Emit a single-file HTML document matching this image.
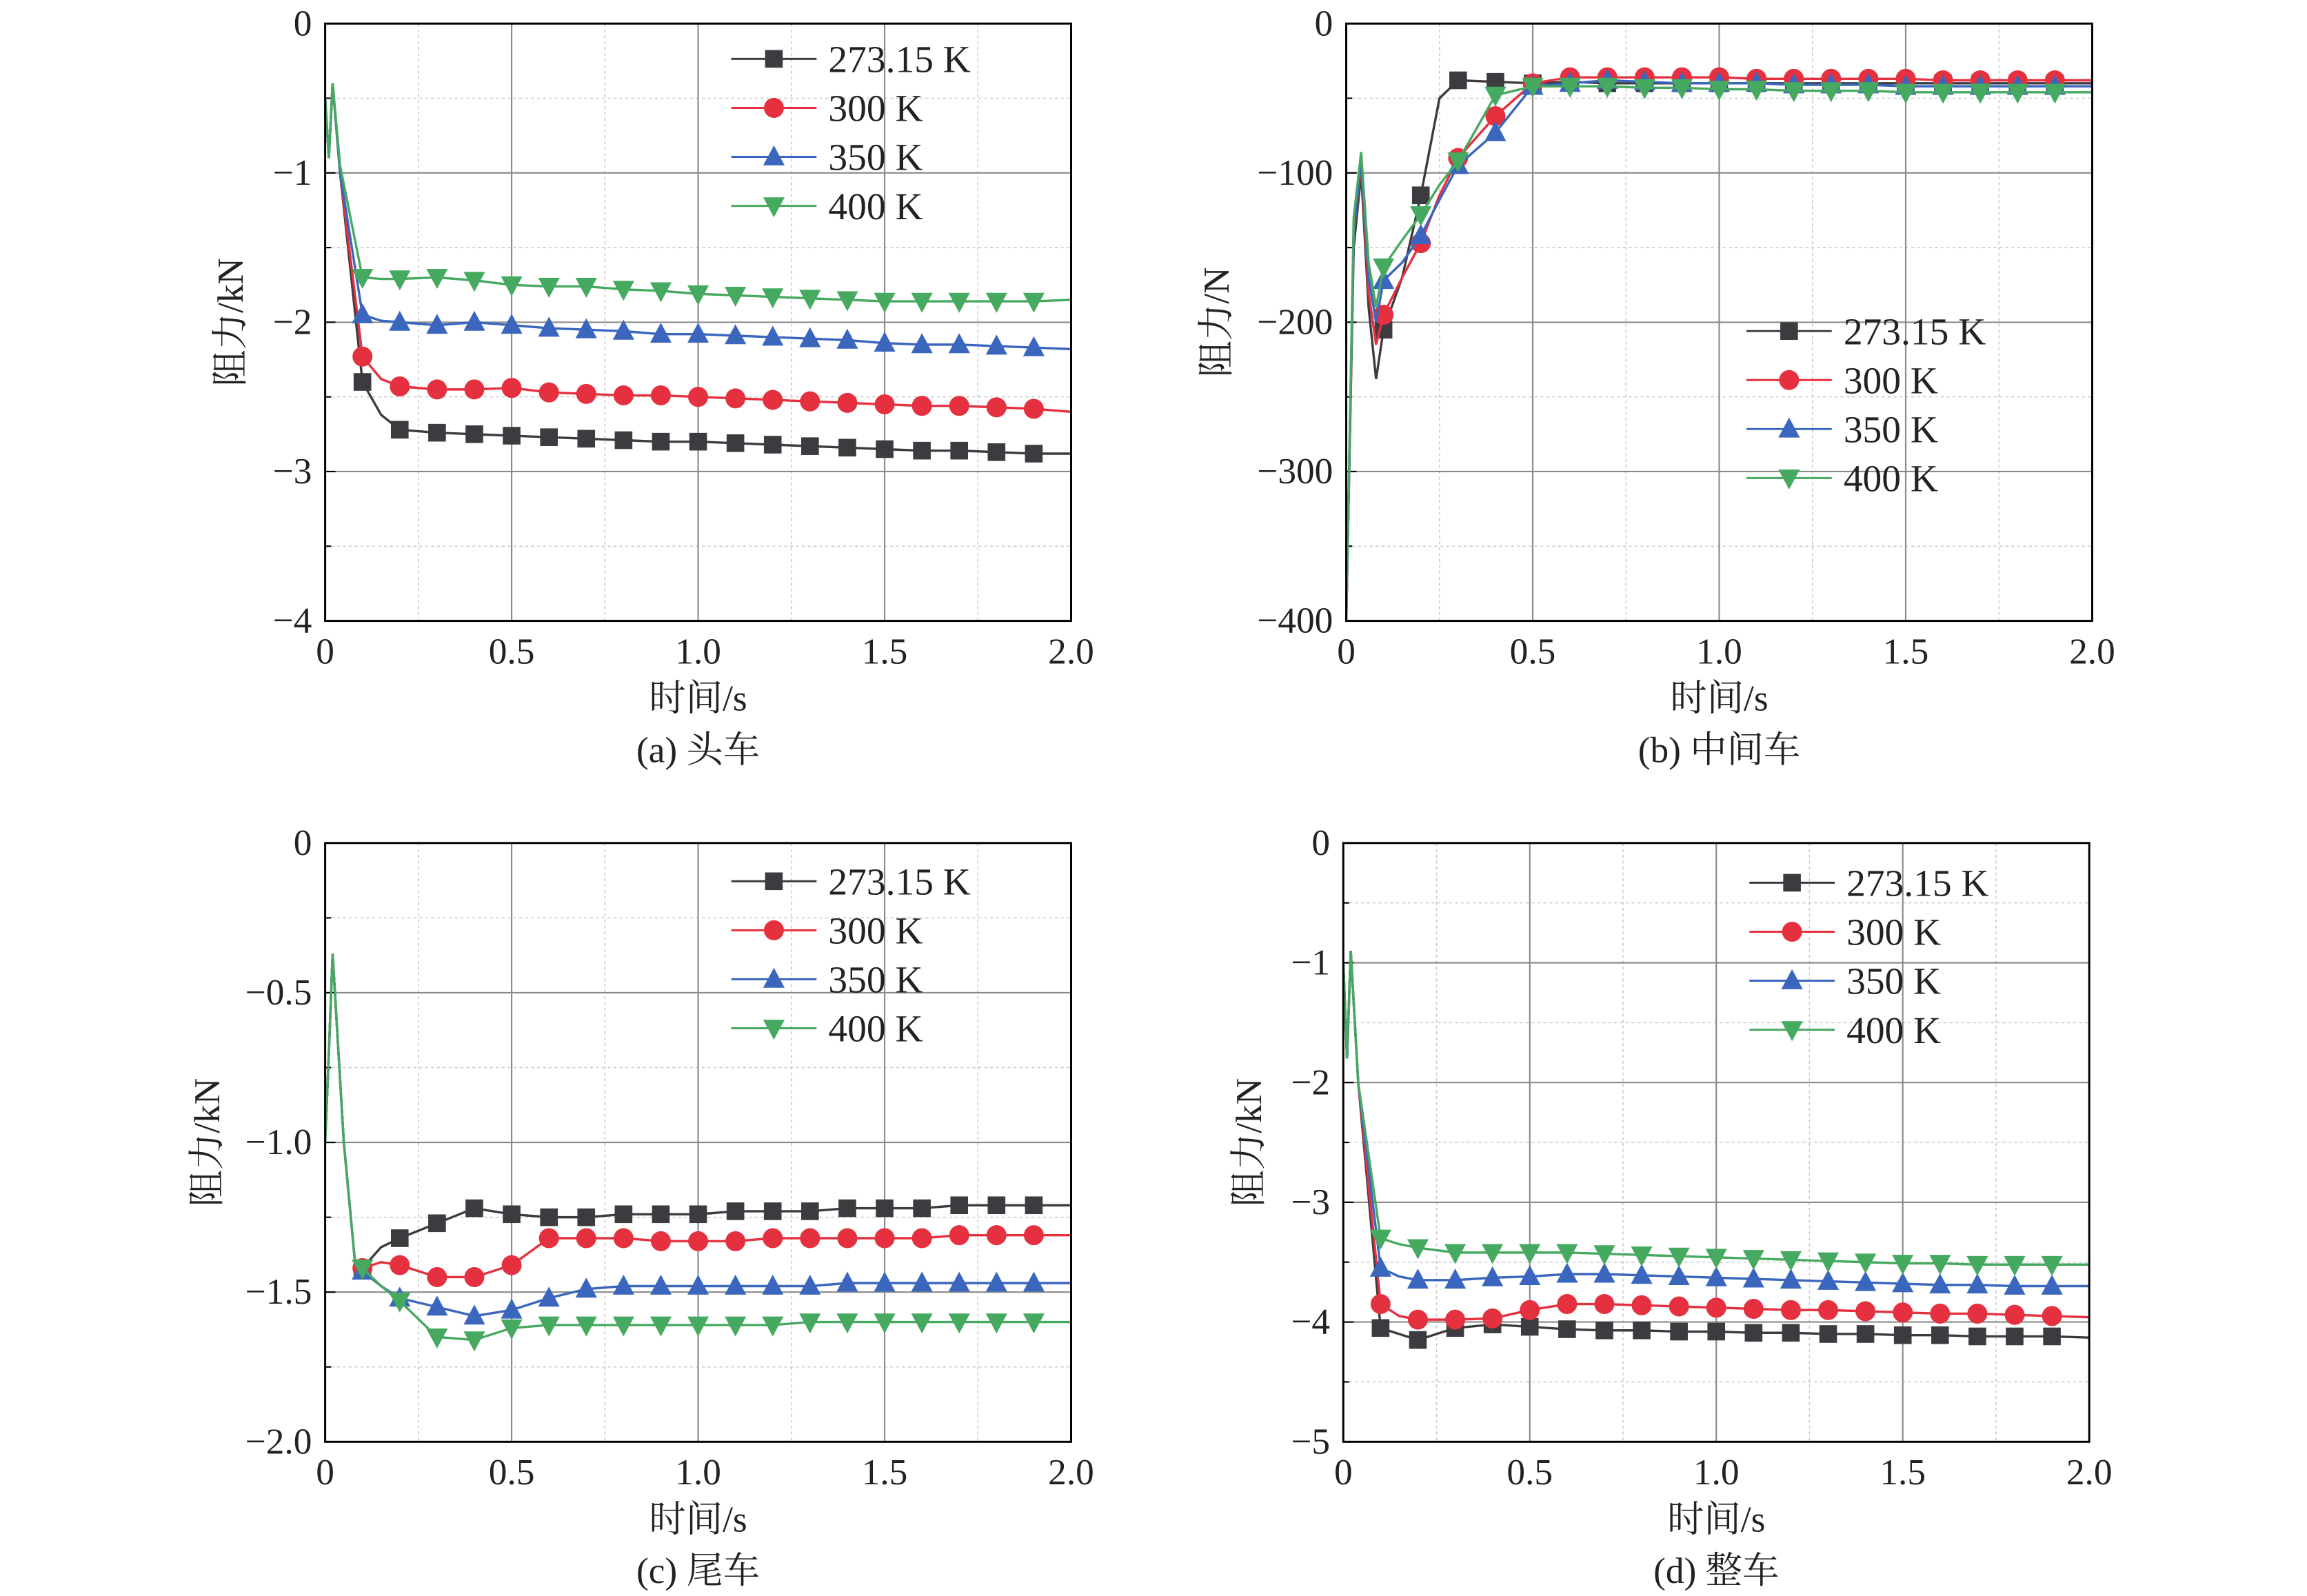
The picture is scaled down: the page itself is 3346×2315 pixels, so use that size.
<!DOCTYPE html>
<html><head><meta charset="utf-8"><style>
html,body{margin:0;padding:0;background:#fff;}
svg{display:block;}
text{font-family:"Liberation Serif","Noto Serif CJK SC",serif;fill:#222;}
</style></head><body>
<svg id="chart" width="3346" height="2315" viewBox="0 0 1568 1084.8" xmlns="http://www.w3.org/2000/svg"></svg>
<script>
const seriesNames = ["273.15 K","300 K","350 K","400 K"];
const colors = ["#3c3c40","#e5303f","#3b66be","#46a960"];
const markers = ["square","circle","up","down"];
const xTicks = [0,0.5,1.0,1.5,2.0];
const xTickLabels = ["0","0.5","1.0","1.5","2.0"];

// Panel A
const aYTicks = [0,-1,-2,-3,-4];
const aYTickLabels = ["0","\u22121","\u22122","\u22123","\u22124"];
const aT = [0,0.01,0.02,0.04,0.1,0.15,0.2,0.3,0.4,0.5,0.6,0.7,0.8,0.9,1.0,1.1,1.2,1.3,1.4,1.5,1.6,1.7,1.8,1.9,2.0];
const a273 = [-0.5,-0.9,-0.4,-1.0,-2.4,-2.62,-2.72,-2.74,-2.75,-2.76,-2.77,-2.78,-2.79,-2.8,-2.8,-2.81,-2.82,-2.83,-2.84,-2.85,-2.86,-2.86,-2.87,-2.88,-2.88];
const a300 = [-0.5,-0.9,-0.4,-1.0,-2.23,-2.38,-2.43,-2.45,-2.45,-2.44,-2.47,-2.48,-2.49,-2.49,-2.5,-2.51,-2.52,-2.53,-2.54,-2.55,-2.56,-2.56,-2.57,-2.58,-2.6];
const a350 = [-0.5,-0.9,-0.4,-1.0,-1.95,-1.99,-2.0,-2.02,-2.0,-2.02,-2.04,-2.05,-2.06,-2.08,-2.08,-2.09,-2.1,-2.11,-2.12,-2.14,-2.15,-2.15,-2.16,-2.17,-2.18];
const a400 = [-0.5,-0.9,-0.4,-0.95,-1.7,-1.71,-1.71,-1.7,-1.72,-1.75,-1.76,-1.76,-1.78,-1.79,-1.81,-1.82,-1.83,-1.84,-1.85,-1.86,-1.86,-1.86,-1.86,-1.86,-1.85];

// Panel B
const bYTicks = [0,-100,-200,-300,-400];
const bYTickLabels = ["0","\u2212100","\u2212200","\u2212300","\u2212400"];
const bT = [0,0.02,0.04,0.06,0.08,0.1,0.15,0.2,0.25,0.3,0.4,0.5,0.6,0.7,0.8,0.9,1.0,1.1,1.2,1.3,1.4,1.5,1.6,1.7,1.8,1.9,2.0];
const b273 = [-400,-150,-100,-190,-238,-205,-170,-115,-50,-38,-39,-40,-39,-40,-40,-40,-40,-40,-40,-40,-40,-40,-40,-40,-40,-40,-40];
const b300 = [-400,-140,-95,-180,-215,-195,-170,-147,-115,-90,-62,-40,-36,-36,-36,-36,-36,-37,-37,-37,-37,-37,-38,-38,-38,-38,-38];
const b350 = [-400,-140,-92,-170,-200,-172,-160,-142,-118,-95,-73,-42,-40,-38,-39,-40,-40,-40,-41,-41,-41,-42,-42,-42,-42,-42,-42];
const b400 = [-400,-130,-86,-160,-190,-163,-145,-128,-108,-92,-48,-42,-42,-42,-43,-43,-44,-44,-45,-45,-45,-46,-46,-46,-46,-46,-46];

// Panel C
const cYTicks = [0,-0.5,-1.0,-1.5,-2.0];
const cYTickLabels = ["0","\u22120.5","\u22121.0","\u22121.5","\u22122.0"];
const cT = [0,0.01,0.02,0.05,0.08,0.1,0.15,0.2,0.3,0.4,0.5,0.6,0.7,0.8,0.9,1.0,1.1,1.2,1.3,1.4,1.5,1.6,1.7,1.8,1.9,2.0];
const c273 = [-1.0,-0.7,-0.37,-1.0,-1.4,-1.42,-1.35,-1.32,-1.27,-1.22,-1.24,-1.25,-1.25,-1.24,-1.24,-1.24,-1.23,-1.23,-1.23,-1.22,-1.22,-1.22,-1.21,-1.21,-1.21,-1.21];
const c300 = [-1.0,-0.7,-0.37,-1.0,-1.4,-1.42,-1.4,-1.41,-1.45,-1.45,-1.41,-1.32,-1.32,-1.32,-1.33,-1.33,-1.33,-1.32,-1.32,-1.32,-1.32,-1.32,-1.31,-1.31,-1.31,-1.31];
const c350 = [-1.0,-0.7,-0.37,-1.0,-1.4,-1.43,-1.48,-1.52,-1.55,-1.58,-1.56,-1.52,-1.49,-1.48,-1.48,-1.48,-1.48,-1.48,-1.48,-1.47,-1.47,-1.47,-1.47,-1.47,-1.47,-1.47];
const c400 = [-1.0,-0.7,-0.37,-1.0,-1.4,-1.42,-1.48,-1.53,-1.65,-1.66,-1.62,-1.61,-1.61,-1.61,-1.61,-1.61,-1.61,-1.61,-1.6,-1.6,-1.6,-1.6,-1.6,-1.6,-1.6,-1.6];

// Panel D
const dYTicks = [0,-1,-2,-3,-4,-5];
const dYTickLabels = ["0","\u22121","\u22122","\u22123","\u22124","\u22125"];
const dT = [0,0.01,0.02,0.04,0.1,0.15,0.2,0.3,0.4,0.5,0.6,0.7,0.8,0.9,1.0,1.1,1.2,1.3,1.4,1.5,1.6,1.7,1.8,1.9,2.0];
const d273 = [-1.0,-1.8,-0.9,-2.0,-4.05,-4.1,-4.15,-4.05,-4.02,-4.04,-4.06,-4.07,-4.07,-4.08,-4.08,-4.09,-4.09,-4.1,-4.1,-4.11,-4.11,-4.12,-4.12,-4.12,-4.13];
const d300 = [-1.0,-1.8,-0.9,-2.0,-3.85,-3.95,-3.98,-3.98,-3.97,-3.9,-3.85,-3.85,-3.86,-3.87,-3.88,-3.89,-3.9,-3.9,-3.91,-3.92,-3.93,-3.93,-3.94,-3.95,-3.96];
const d350 = [-1.0,-1.8,-0.9,-2.0,-3.55,-3.62,-3.65,-3.65,-3.63,-3.62,-3.6,-3.6,-3.61,-3.62,-3.63,-3.64,-3.65,-3.66,-3.67,-3.68,-3.69,-3.69,-3.7,-3.7,-3.7];
const d400 = [-1.0,-1.8,-0.9,-2.0,-3.3,-3.35,-3.38,-3.42,-3.42,-3.42,-3.42,-3.43,-3.44,-3.45,-3.46,-3.47,-3.48,-3.49,-3.5,-3.51,-3.51,-3.52,-3.52,-3.52,-3.52];

const NS = "http://www.w3.org/2000/svg";
const svg = document.getElementById('chart');
function mk(tag, attrs, parent){
  const e = document.createElementNS(NS, tag);
  for (const k in attrs) e.setAttribute(k, attrs[k]);
  (parent||svg).appendChild(e);
  return e;
}
function drawMarker(g, type, x, y, color){
  const s = 6.8;
  let m;
  if (type==="square") m = mk('rect',{x:x-s+0.8,y:y-s+0.8,width:2*s-1.6,height:2*s-1.6,fill:color},g);
  else if (type==="circle") m = mk('circle',{cx:x,cy:y,r:s,fill:color},g);
  else if (type==="up") m = mk('polygon',{points:`${x},${y-s-1} ${x-s-0.5},${y+s-1} ${x+s+0.5},${y+s-1}`,fill:color},g);
  else m = mk('polygon',{points:`${x},${y+s+1} ${x-s-0.5},${y-s+1} ${x+s+0.5},${y-s+1}`,fill:color},g);
  
  
}

function panel(cfg){
  const g = mk('g',{});
  
  
  const L=cfg.x0, R=cfg.x1, T=cfg.y0, B=cfg.y1;
  const ymin = Math.min(...cfg.yTicks), ymax = Math.max(...cfg.yTicks);
  const sx = v => L + (v-0)/(2-0)*(R-L);
  const sy = v => T + (ymax - v)/(ymax-ymin)*(B-T);
  for (let i=0;i<xTicks.length-1;i++){
    const xm = sx((xTicks[i]+xTicks[i+1])/2);
    mk('line',{x1:xm,y1:T,x2:xm,y2:B,stroke:'#c8c8c8','stroke-width':0.7,'stroke-dasharray':'2,2'},g);
  }
  for (let i=0;i<cfg.yTicks.length-1;i++){
    const ym = sy((cfg.yTicks[i]+cfg.yTicks[i+1])/2);
    mk('line',{x1:L,y1:ym,x2:R,y2:ym,stroke:'#c8c8c8','stroke-width':0.7,'stroke-dasharray':'2,2'},g);
    mk('line',{x1:L,y1:ym,x2:L+4,y2:ym,stroke:'#000','stroke-width':1},g);
  }
  xTicks.forEach((v,i)=>{
    const x=sx(v);
    if(i>0&&i<xTicks.length-1) mk('line',{x1:x,y1:T,x2:x,y2:B,stroke:'#8a8a8a','stroke-width':1},g);
    const t=mk('text',{x:x,y:B+29,'font-size':25,'text-anchor':'middle'},g);
    t.textContent=xTickLabels[i];
    
    
  });
  cfg.yTicks.forEach((v,i)=>{
    const y=sy(v);
    if(i>0&&i<cfg.yTicks.length-1) mk('line',{x1:L,y1:y,x2:R,y2:y,stroke:'#8a8a8a','stroke-width':1},g);
    mk('line',{x1:L,y1:y,x2:L+7,y2:y,stroke:'#000','stroke-width':1},g);
    const t=mk('text',{x:L-9,y:y+8,'font-size':25,'text-anchor':'end'},g);
    t.textContent=cfg.yTickLabels[i];
    
    
  });
  const clip = 'clip-'+cfg.name;
  const cp = mk('clipPath',{id:clip},g);
  mk('rect',{x:L,y:T,width:R-L,height:B-T},cp);
  cfg.series.forEach((vals,si)=>{
    const sg = mk('g',{'clip-path':`url(#${clip})`},g);
    
    
    const pts = cfg.t.map((t,i)=>`${sx(t).toFixed(2)},${sy(vals[i]).toFixed(2)}`).join(' ');
    const pl = mk('polyline',{points:pts,fill:'none',stroke:colors[si],'stroke-width':1.6},sg);
    
    
    cfg.t.forEach((t,i)=>{
      const r = Math.round(t*10);
      if (t>=0.1 && t<1.95 && Math.abs(t*10-r)<1e-6) drawMarker(sg, markers[si], sx(t), sy(vals[i]), colors[si]);
    });
  });
  const fr = mk('rect',{x:L,y:T,width:R-L,height:B-T,fill:'none',stroke:'#000','stroke-width':1.4},g);
  
  
  const lg = mk('g',{},g);
  
  
  seriesNames.forEach((n,i)=>{
    const y = cfg.legY + i*33.3;
    const e = mk('g',{},lg);
    
    
    mk('line',{x1:cfg.legX,y1:y,x2:cfg.legX+58,y2:y,stroke:colors[i],'stroke-width':1.4},e);
    drawMarker(e, markers[i], cfg.legX+29, y, colors[i]);
    const t=mk('text',{x:cfg.legX+66,y:y+9,'font-size':26},e);
    t.textContent=n;
  });
  const xt=mk('text',{x:(L+R)/2,y:B+61,'font-size':25,'text-anchor':'middle'},g);
  xt.textContent='时间/s';
  
  
  const yt=mk('text',{x:0,y:0,'font-size':25,'text-anchor':'middle',transform:`translate(${cfg.yTitleX},${(T+B)/2}) rotate(-90)`},g);
  yt.textContent=cfg.yTitle;
  
  
  const cap=mk('text',{x:(L+R)/2,y:B+96,'font-size':25,'text-anchor':'middle'},g);
  cap.textContent=cfg.caption;
  
  
}

panel({name:'panel-a-head-car',x0:221,x1:728,y0:16,y1:422,yTicks:aYTicks,yTickLabels:aYTickLabels,t:aT,series:[a273,a300,a350,a400],legX:497,legY:40,yTitle:'阻力/kN',yTitleX:165,caption:'(a) 头车'});
panel({name:'panel-b-middle-car',x0:915,x1:1422,y0:16,y1:422,yTicks:bYTicks,yTickLabels:bYTickLabels,t:bT,series:[b273,b300,b350,b400],legX:1187,legY:225,yTitle:'阻力/N',yTitleX:835,caption:'(b) 中间车'});
panel({name:'panel-c-tail-car',x0:221,x1:728,y0:573,y1:980,yTicks:cYTicks,yTickLabels:cYTickLabels,t:cT,series:[c273,c300,c350,c400],legX:497,legY:599,yTitle:'阻力/kN',yTitleX:149,caption:'(c) 尾车'});
panel({name:'panel-d-whole-train',x0:913,x1:1420,y0:573,y1:980,yTicks:dYTicks,yTickLabels:dYTickLabels,t:dT,series:[d273,d300,d350,d400],legX:1189,legY:600,yTitle:'阻力/kN',yTitleX:857,caption:'(d) 整车'});
</script>
</body></html>
